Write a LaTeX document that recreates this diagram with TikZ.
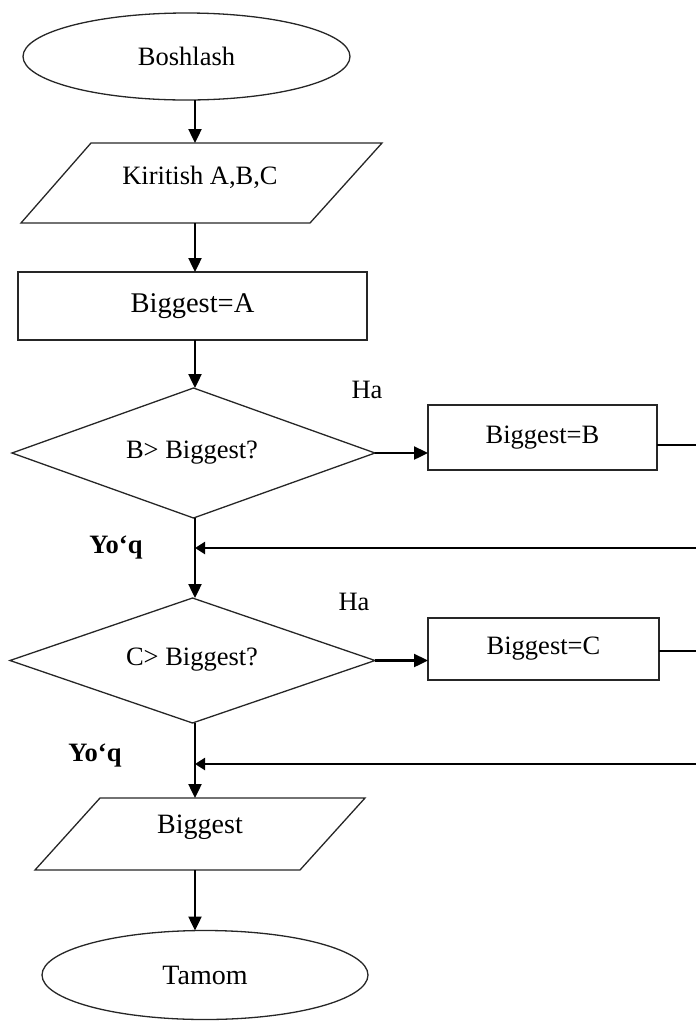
\documentclass[tikz,border=0pt]{standalone}
\usepackage{fontspec}
\setmainfont{Liberation Serif}
\usetikzlibrary{shapes.geometric,arrows.meta,calc}
\begin{document}
\begin{tikzpicture}[x=1pt,y=-1pt,
  every node/.style={inner sep=0pt,outer sep=0pt,font=\fontsize{26.5}{30}\selectfont},
  outline/.style={draw=black!85,line width=1.3pt,line join=miter},
  terminal/.style={outline,ellipse},
  procbox/.style={outline,rectangle},
  framebox/.style={rectangle},
  flow/.style={line width=2.4pt,-{Triangle[length=14pt,width=13pt]}},
  backflow/.style={line width=2.2pt,-{Triangle[length=10pt,width=12pt]}},
  exitline/.style={line width=1.7pt},
  lbl/.style={font=\fontsize{26.5}{30}\selectfont},
  nolbl/.style={font=\bfseries\fontsize{26.5}{30}\selectfont}
]
\useasboundingbox (0,0) rectangle (696,1021);

% main vertical axis of the flow
\coordinate (ax) at (195,0);

% start
\node[terminal,minimum width=327pt,minimum height=87pt] (start) at (186.5,56.5) {Boshlash};

% input parallelogram
\node[framebox,minimum width=361pt,minimum height=80pt] (in) at (201.5,183) {};
\draw[outline] ([xshift=70pt]in.north west) -- (in.north east)
  -- ([xshift=-72pt]in.south east) -- (in.south west) -- cycle;
\node at (200,177) {Kiritish A,B,C};

% initial assignment
\node[procbox,minimum width=349pt,minimum height=68pt,font=\fontsize{28.5}{32}\selectfont] (init) at (192.5,306) {Biggest=A};

% first test
\node[framebox,minimum width=363pt,minimum height=130pt] (d1) at (193.5,453) {};
\draw[outline] (d1.north) -- (d1.east) -- (d1.south) -- (d1.west) -- cycle;
\node at (192,453) {B> Biggest?};
\node[procbox,minimum width=229pt,minimum height=65pt] (b1) at (542.5,437.5) {Biggest=B};
\node[lbl] at (367,390) {Ha};
\node[nolbl] at (116,548) {Yo‘q};

% second test
\node[framebox,minimum width=365pt,minimum height=125pt] (d2) at (192.5,660.5) {};
\draw[outline] (d2.north) -- (d2.east) -- (d2.south) -- (d2.west) -- cycle;
\node at (192,660) {C> Biggest?};
\node[procbox,minimum width=231pt,minimum height=62pt] (b2) at (543.5,649) {Biggest=C};
\node[lbl] at (354,602) {Ha};
\node[nolbl] at (95,755) {Yo‘q};

% output parallelogram
\node[framebox,minimum width=330pt,minimum height=72pt] (out) at (200,834) {};
\draw[outline] ([xshift=65pt]out.north west) -- (out.north east)
  -- ([xshift=-65pt]out.south east) -- (out.south west) -- cycle;
\node[font=\fontsize{28}{32}\selectfont] at (200,827) {Biggest};

% end
\node[terminal,minimum width=326pt,minimum height=89pt,font=\fontsize{28}{32}\selectfont] (stop) at (205,975) {Tamom};

% right-hand ends of the branch lines
\coordinate (eB) at (696,445);
\coordinate (rB) at (696,548);
\coordinate (eC) at (696,651);
\coordinate (rC) at (696,764);

% main flow
\draw[flow] (start.south -| ax) -- (in.north -| ax);
\draw[flow] (in.south -| ax) -- (init.north -| ax);
\draw[flow] (init.south -| ax) -- (d1.north -| ax);
\draw[flow] (d1.south -| ax) -- (d2.north -| ax);
\draw[flow] (d2.south -| ax) -- (out.north -| ax);
\draw[flow] (out.south -| ax) -- (stop.north -| ax);

% branches
\draw[flow] (d1.east) -- (d1.east -| b1.west);
\draw[flow] (d2.east) -- (d2.east -| b2.west);
\draw[exitline] (b1.east |- eB) -- (eB);
\draw[exitline] (b2.east |- eC) -- (eC);
\draw[backflow] (rB) -- (rB -| ax);
\draw[backflow] (rC) -- (rC -| ax);
\end{tikzpicture}
\end{document}
